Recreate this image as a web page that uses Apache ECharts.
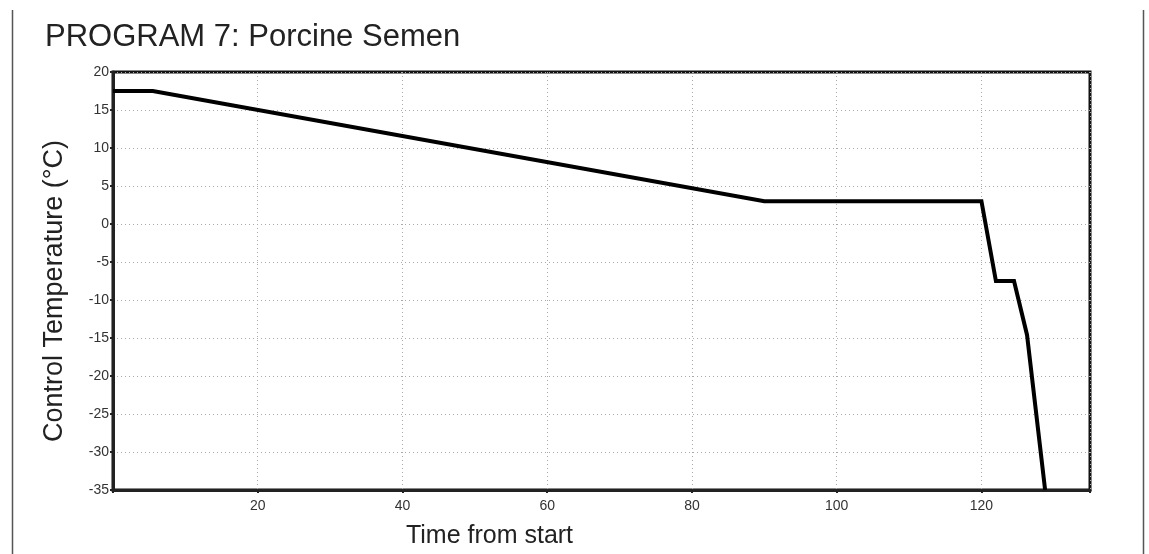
<!DOCTYPE html>
<html>
<head>
<meta charset="utf-8">
<script src="https://cdn.jsdelivr.net/npm/echarts@6/dist/echarts.min.js"></script>
<style>
html,body{margin:0;padding:0;background:#fff;}
#chart{width:1149px;height:554px;}
</style>
</head>
<body>
<div id="chart"></div>
<script>
var titleText = 'PROGRAM 7: Porcine Semen';
var xName = 'Time from start';
var yName = 'Control Temperature (\u00B0C)';
var timeValues = [0, 5.5, 90, 120, 122, 124.5, 126.3, 128.8];
var tempValues = [17.5, 17.5, 3, 3, -7.5, -7.5, -14.6, -35];
var xTicks = [20, 40, 60, 80, 100, 120];

var seriesData = timeValues.map(function (t, i) { return [t, tempValues[i]]; });
var FONT = 'Liberation Sans, Arial, sans-serif';

var chart = echarts.init(document.getElementById('chart'), null, {renderer: 'canvas'});
chart.setOption({
  animation: false,
  backgroundColor: '#fff',
  title: {
    text: titleText,
    left: 40,
    top: 17,
    textStyle: {fontFamily: FONT, fontSize: 31, fontWeight: 'normal', color: '#222'}
  },
  grid: {left: 113, right: 59, top: 72, bottom: 64, show: true, borderColor: '#111', borderWidth: 3, backgroundColor: 'transparent'},
  xAxis: {
    type: 'value', min: 0, max: 135, interval: 20,
    name: xName, nameLocation: 'middle', nameGap: 34,
    nameTextStyle: {fontFamily: FONT, fontSize: 25, color: '#222', padding: [0, 224, 0, 0]},
    axisLine: {show: true, onZero: false, lineStyle: {color: '#222', width: 3}},
    axisTick: {show: true, inside: false, length: 3, lineStyle: {color: '#222', width: 2}},
    axisLabel: {
      fontFamily: FONT, fontSize: 14, color: '#333', margin: 9,
      formatter: function (v) { return xTicks.indexOf(v) >= 0 ? String(v) : ''; }
    },
    splitLine: {show: true, lineStyle: {color: '#aaa', width: 1, type: [1, 3]}}
  },
  yAxis: {
    type: 'value', min: -35, max: 20, interval: 5,
    name: yName, nameLocation: 'middle', nameGap: 45,
    nameTextStyle: {fontFamily: FONT, fontSize: 27, color: '#222', padding: [0, 20, 0, 0]},
    axisLine: {show: true, onZero: false, lineStyle: {color: '#222', width: 3}},
    axisTick: {show: true, length: 3, lineStyle: {color: '#222', width: 2}},
    axisLabel: {fontFamily: FONT, fontSize: 14, color: '#333', margin: 4},
    splitLine: {show: true, lineStyle: {color: '#aaa', width: 1, type: [1, 3]}}
  },
  graphic: [
    {type: 'line', shape: {x1: 12.5, y1: 10, x2: 12.5, y2: 554}, style: {stroke: '#555', lineWidth: 1.5}},
    {type: 'line', shape: {x1: 1143.5, y1: 10, x2: 1143.5, y2: 554}, style: {stroke: '#555', lineWidth: 1.5}}
  ],
  series: [{
    type: 'line',
    data: seriesData,
    showSymbol: false,
    symbol: 'none',
    lineStyle: {color: '#000', width: 4, join: 'miter'},
    clip: true
  }]
});
</script>
</body>
</html>
